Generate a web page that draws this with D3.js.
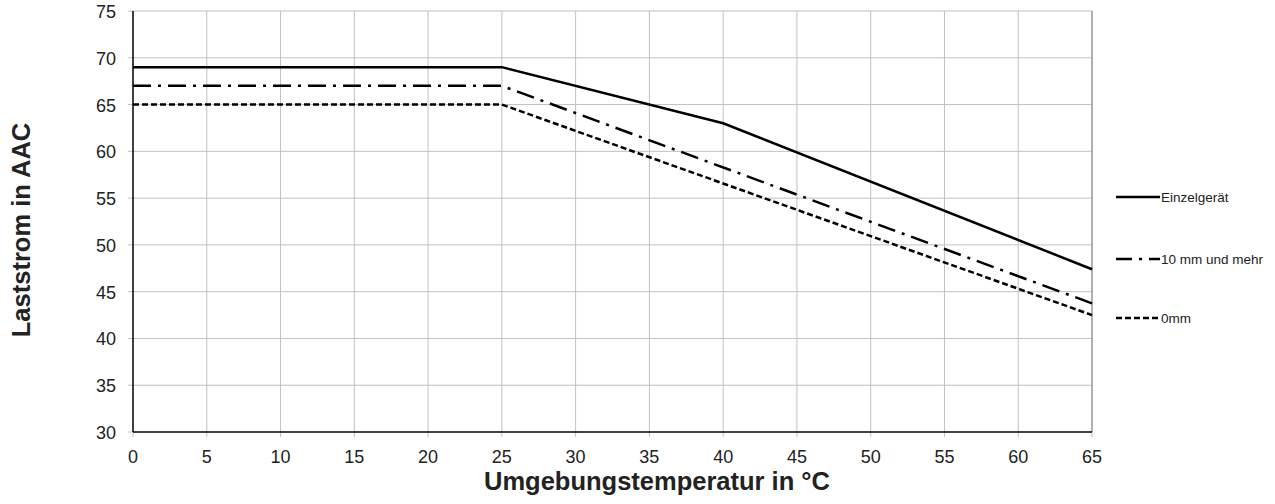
<!DOCTYPE html>
<html><head><meta charset="utf-8">
<script src="https://cdn.jsdelivr.net/npm/d3@7"></script>
<style>body{margin:0;background:#fff;}svg{display:block;font-family:"Liberation Sans",Arial,sans-serif;}</style>
</head><body><svg id="c" width="1275" height="504"></svg>
<script>
const xTicks = [0,5,10,15,20,25,30,35,40,45,50,55,60,65];
const yTicks = [30,35,40,45,50,55,60,65,70,75];
const tempEinzel = [0,25,40,65];
const valEinzel = [69,69,63,47.4];
const temp10mm = [0,25,65];
const val10mm = [67,67,43.75];
const temp0mm = [0,25,65];
const val0mm = [65,65,42.5];
const seriesNames = ["Einzelgerät","10 mm und mehr","0mm"];

const svg = d3.select("#c");
const L=133, R=1092, T=11, B=432;
const x = d3.scaleLinear().domain([0,65]).range([L,R]);
const y = d3.scaleLinear().domain([30,75]).range([B,T]);

// grid
svg.append("g").selectAll("line").data(xTicks.slice(1)).join("line")
 .attr("x1",d=>x(d)).attr("x2",d=>x(d)).attr("y1",T).attr("y2",B+5)
 .attr("stroke","#c0c0c0").attr("stroke-width",1);
svg.append("g").selectAll("line").data(yTicks.slice(1)).join("line")
 .attr("x1",L-5).attr("x2",R).attr("y1",d=>y(d)).attr("y2",d=>y(d))
 .attr("stroke","#c0c0c0").attr("stroke-width",1);
svg.append("line").attr("x1",L).attr("x2",L).attr("y1",B).attr("y2",B+5).attr("stroke","#c0c0c0");
svg.append("line").attr("x1",L-5).attr("x2",L).attr("y1",B).attr("y2",B).attr("stroke","#c0c0c0");
// border right
svg.append("line").attr("x1",R).attr("x2",R).attr("y1",T).attr("y2",B).attr("stroke","#808080").attr("stroke-width",1);
// axes
svg.append("line").attr("x1",L).attr("x2",L).attr("y1",T).attr("y2",B).attr("stroke","#000").attr("stroke-width",1.5);
svg.append("line").attr("x1",L).attr("x2",R).attr("y1",B).attr("y2",B).attr("stroke","#000").attr("stroke-width",1.5);

// tick labels
svg.append("g").selectAll("text").data(xTicks).join("text")
 .attr("x",d=>x(d)).attr("y",B+31).attr("text-anchor","middle")
 .attr("font-size",18).attr("fill","#222").text(d=>d);
svg.append("g").selectAll("text").data(yTicks).join("text")
 .attr("x",L-17).attr("y",d=>y(d)+7).attr("text-anchor","end")
 .attr("font-size",18).attr("fill","#222").text(d=>d);

// titles
svg.append("text").attr("x",657).attr("y",490).attr("text-anchor","middle")
 .attr("font-size",25.5).attr("font-weight","bold").attr("fill","#222").text("Umgebungstemperatur in °C");
svg.append("text").attr("transform",`translate(30,230) rotate(-90)`).attr("text-anchor","middle")
 .attr("font-size",25.5).attr("font-weight","bold").attr("fill","#222").text("Laststrom in AAC");

const dashes = [null,"18,7,3,7","6,3"];
const series = [
 {name:seriesNames[0], t:tempEinzel, v:valEinzel},
 {name:seriesNames[1], t:temp10mm, v:val10mm},
 {name:seriesNames[2], t:temp0mm, v:val0mm}
];
const line = d3.line().x(d=>x(d[0])).y(d=>y(d[1]));
series.forEach((s,i)=>{
  svg.append("path").datum(s.t.map((t,j)=>[t,s.v[j]]))
   .attr("d",line).attr("fill","none").attr("stroke","#000").attr("stroke-width",2.5)
   .attr("stroke-dasharray",dashes[i]);
});

// legend
const legY=[197,259,318];
series.forEach((s,i)=>{
  svg.append("line").attr("x1",1116).attr("x2",1160).attr("y1",legY[i]).attr("y2",legY[i])
   .attr("stroke","#000").attr("stroke-width",2.5).attr("stroke-dasharray",i==1?"16,7,3,7":(i==2?"6,3":null));
  svg.append("text").attr("x",1161).attr("y",legY[i]+5).attr("font-size",13.5).attr("fill","#222").text(s.name);
});
</script></body></html>
